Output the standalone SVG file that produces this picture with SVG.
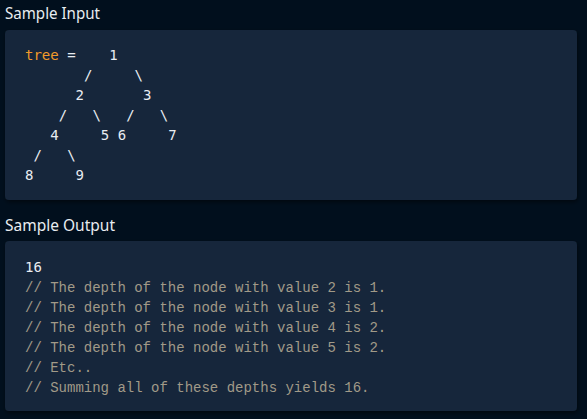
<svg xmlns="http://www.w3.org/2000/svg" width="587" height="419" viewBox="0 0 587 419">
<style>
.h{font-family:"Noto Sans","Open Sans",sans-serif;font-size:16px;fill:#e8ecf0}
.m{font-family:"DejaVu Sans Mono",monospace;font-size:14px;fill:#e9edf2;white-space:pre}
.c{font-family:"Courier New","Nimbus Mono PS","FreeMono","Liberation Mono",monospace;font-size:14px;fill:#a19a88;white-space:pre}
.k{fill:#f19a2a}
.p{fill:#15263a}
</style>
<defs>
<filter id="sh" x="-5%" y="-5%" width="110%" height="115%">
<feDropShadow dx="1" dy="2" stdDeviation="2" flood-color="#000" flood-opacity="0.5"/>
</filter>
</defs>
<rect width="587" height="419" fill="#010f1d"/>
<g id="input">
<text class="h" x="5" y="19" textLength="95" lengthAdjust="spacingAndGlyphs">Sample Input</text>
<rect class="p" x="5" y="30" width="572" height="170" rx="4" filter="url(#sh)"/>
<text class="m" x="25" y="60"><tspan class="k">tree</tspan> =    1</text>
<text class="m" x="25" y="80">       /     \</text>
<text class="m" x="25" y="100">      2       3</text>
<text class="m" x="25" y="120">    /   \   /   \</text>
<text class="m" x="25" y="140">   4     5 6     7</text>
<text class="m" x="25" y="160"> /   \</text>
<text class="m" x="25" y="180">8     9</text>
</g>
<g id="output">
<text class="h" x="5" y="231" textLength="110" lengthAdjust="spacingAndGlyphs">Sample Output</text>
<rect class="p" x="5" y="241" width="572" height="170" rx="4" filter="url(#sh)"/>
<text class="m" x="25" y="272">16</text>
<text class="c" x="25" y="292">// The depth of the node with value 2 is 1.</text>
<text class="c" x="25" y="312">// The depth of the node with value 3 is 1.</text>
<text class="c" x="25" y="332">// The depth of the node with value 4 is 2.</text>
<text class="c" x="25" y="352">// The depth of the node with value 5 is 2.</text>
<text class="c" x="25" y="372">// Etc..</text>
<text class="c" x="25" y="392">// Summing all of these depths yields 16.</text>
</g>
</svg>
